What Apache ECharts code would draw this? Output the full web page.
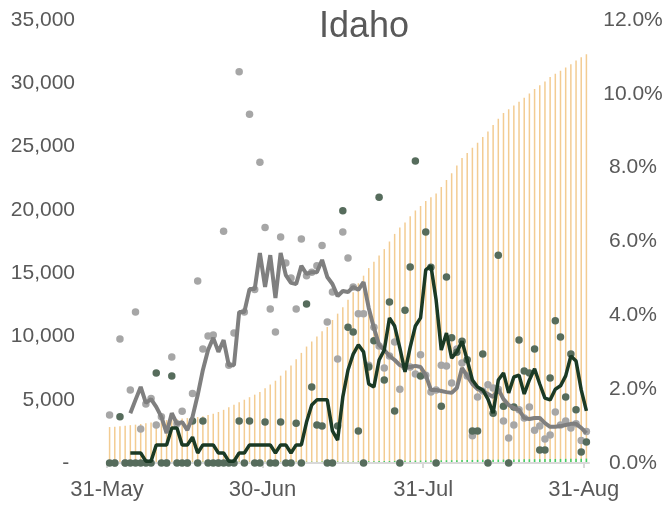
<!DOCTYPE html>
<html>
<head>
<meta charset="utf-8">
<script src="https://cdn.jsdelivr.net/npm/echarts@6/dist/echarts.min.js"></script>
<style>
html, body { margin: 0; padding: 0; background: #fff; }
#chart { width: 668px; height: 508px; }
</style>
</head>
<body>
<div id="chart"></div>
<script>
// x axis labels sit on day boundaries
var tickLabels = ['31-May', '30-Jun', '31-Jul', '31-Aug'];
var tickIndex = [0, 30, 61, 92];

// cumulative cases (left axis)
var cumCases = [2840, 2870, 2910, 2950, 2990, 3030, 3080, 3140, 3190, 3260,
  3330, 3390, 3430, 3470, 3510, 3560, 3600, 3630, 3700, 3800,
  3900, 4030, 4200, 4400, 4600, 4800, 5000, 5200, 5400, 5600,
  5900, 6200, 6500, 6900, 7300, 7700, 8200, 8700, 9200, 9600,
  10000, 10400, 10750, 11300, 11800, 12300, 12900, 13500, 14200, 14800,
  15400, 15900, 16400, 16900, 17500, 18100, 18600, 19000, 19500, 19950,
  20300, 20700, 21000, 21300, 21800, 22350, 22900, 23500, 24100, 24500,
  24900, 25300, 25750, 26200, 26700, 27200, 27650, 27950, 28250, 28550,
  28850, 29200, 29550, 29850, 30150, 30500, 30750, 31000, 31250, 31500,
  31800, 32050, 32300];

// cumulative deaths (left axis)
var cumDeaths = [80, 81, 81, 82, 82, 83, 84, 84, 85, 85,
  86, 86, 87, 87, 88, 88, 89, 89, 90, 90,
  90, 90, 91, 91, 91, 92, 92, 92, 93, 94,
  94, 95, 96, 97, 98, 99, 100, 102, 104, 106,
  108, 110, 112, 115, 118, 121, 124, 128, 132, 136,
  140, 145, 150, 155, 160, 165, 170, 176, 182, 188,
  194, 199, 204, 208, 212, 216, 221, 226, 231, 236,
  240, 245, 250, 255, 260, 265, 270, 275, 280, 285,
  290, 295, 300, 305, 310, 315, 320, 325, 330, 334,
  338, 342, 346];

// daily case growth % (right axis)
var caseGrowth = [1.30, 0, 3.36, 0, 1.98, 4.09, 0.92, 1.6, 1.75, 1.03,
  1.25, 0, 2.87, 1.06, 1.40, 0, 1.88, 4.93, 3.09, 3.44,
  3.47, 0, 6.28, 2.65, 3.52, 10.6, 4.09, 9.45, 4.7, 8.15,
  6.38, 4.17, 3.55, 6.12, 5.42, 5.01, 4.17, 6.07, 5.07, 5.17,
  5.34, 5.89, 3.82, 4.63, 2.82, 6.26, 5.55, 4.77, 4.04, 4.04,
  2.65, 3.68, 3.17, 2.57, 2.9, 3.28, 2.0, 2.6, 2.6, 2.41,
  2.93, 2.38, 1.92, 1.98, 2.65, 2.63, 2.17, 3.09, 2.71, 2.36,
  0.74, 1.79, 1.95, 2.12, 2.03, 2.0, 1.14, 0.68, 1.03, 1.44,
  1.22, 1.52, 0.89, 1.0, 0.65, 0.76, 1.38, 1.03, 1.14, 0.95,
  1.06, 0.61, 0.85];

// 7 day average of case growth %
var caseGrowthAvg = [null, null, null, null, 1.35, 1.71, 2.06, 1.63, 1.73, 1.52,
  1.25, 0.81, 1.35, 1.06, 1.11, 0.89, 1.25, 1.84, 2.52, 3.06,
  3.39, 3.01, 3.33, 2.65, 2.65, 4.09, 4.09, 4.71, 4.71, 5.69,
  4.77, 5.63, 4.47, 5.69, 5.09, 4.88, 4.85, 5.34, 5.12, 5.17,
  5.17, 5.50, 5.04, 4.85, 4.52, 4.66, 4.63, 4.77, 4.69, 4.90,
  4.20, 3.66, 3.20, 3.06, 2.90, 2.79, 2.65, 2.60, 2.60, 2.63,
  2.60, 2.38, 1.98, 1.98, 1.95, 1.92, 1.90, 2.03, 2.57, 2.36,
  2.14, 2.00, 1.95, 1.87, 1.79, 2.00, 1.73, 1.57, 1.49, 1.44,
  1.22, 1.19, 1.22, 1.22, 1.08, 0.98, 0.98, 1.00, 1.03, 1.06,
  1.06, 0.95, 0.81];

// daily death growth % (right axis)
var deathGrowth = [0, 0, 1.25, 0, 0, 0, 0, 0, 0, 2.44,
  0, 0, 2.36, 0, 0, 0, 1.14, 0, 1.14, 0,
  0, 0, 0, 0, 0, 1.14, 0, 1.14, 0, 0,
  1.11, 0, 0, 1.11, 0, 0, 1.08, 0, 4.31, 2.06,
  1.03, 1.0, 0, 0, 1.0, 6.83, 3.68, 3.55, 0.87, 0,
  2.6, 3.31, 7.2, 2.25, 4.36, 1.41, 0, 4.14, 5.31, 8.18,
  2.36, 6.26, 5.3, 0, 1.54, 5.04, 3.39, 3.0, 3.3, 2.8,
  0.87, 0.87, 2.95, 0, 1.35, 5.63, 1.54, 0, 1.52, 3.33,
  2.49, 2.44, 3.09, 0.35, 0.35, 2.30, 3.85, 3.41, 1.79, 2.95,
  1.44, 0.30, 0.57];

// 7 day average of death growth %
var deathGrowthAvg = [null, null, null, null, 0.27, 0.27, 0.27, 0.05, 0.05, 0.49,
  0.49, 0.49, 0.95, 0.95, 0.49, 0.49, 0.70, 0.27, 0.49, 0.49,
  0.49, 0.27, 0.27, 0.05, 0.05, 0.27, 0.27, 0.49, 0.49, 0.49,
  0.49, 0.49, 0.27, 0.49, 0.49, 0.27, 0.49, 0.49, 1.11, 1.57,
  1.71, 1.71, 1.71, 0.87, 0.62, 1.79, 2.52, 2.95, 3.20, 3.01,
  2.14, 2.06, 2.79, 3.06, 3.93, 3.71, 3.12, 2.47, 3.14, 3.71,
  3.93, 5.23, 5.34, 4.42, 3.06, 3.52, 2.84, 3.01, 3.30, 2.79,
  2.25, 2.06, 1.98, 1.73, 1.35, 2.25, 2.44, 1.90, 2.33, 2.38,
  1.87, 2.25, 2.55, 2.14, 1.76, 1.71, 2.00, 2.09, 2.36, 2.90,
  2.76, 1.98, 1.41];

var days = [];
var start = new Date(2020, 4, 31);
for (var i = 0; i < cumCases.length; i++) {
  var d = new Date(start.getTime() + i * 86400000);
  days.push((d.getMonth() + 1) + '/' + d.getDate());
}
// one more slot boundary than days, labelled on month ends
var edges = [];
for (var j = 0; j <= cumCases.length; j++) {
  var k = tickIndex.indexOf(j);
  edges.push(k >= 0 ? tickLabels[k] : '');
}
var showEdge = function(idx, val) { return val !== ''; };

var labelColor = '#595959';
var labelFont = 'Liberation Sans, Arial, sans-serif';

var chart = echarts.init(document.getElementById('chart'));
chart.setOption({
  animation: false,
  title: {
    text: 'Idaho',
    left: 359,
    top: 4,
    textAlign: 'center',
    textStyle: { color: labelColor, fontFamily: labelFont, fontSize: 36, fontWeight: 'normal' }
  },
  grid: { left: 107, right: 79, top: 20, bottom: 45 },
  xAxis: [{
    type: 'category',
    data: days,
    boundaryGap: true,
    position: 'top',
    show: false
  }, {
    type: 'category',
    data: edges,
    boundaryGap: false,
    position: 'bottom',
    z: 1.5,
    axisLine: { lineStyle: { color: '#d9d9d9', width: 2 } },
    axisTick: { interval: showEdge, length: 5, lineStyle: { color: '#d9d9d9', width: 2 } },
    axisLabel: { interval: showEdge, color: labelColor, fontFamily: labelFont, fontSize: 22, margin: 16 },
    splitLine: { show: false }
  }],
  yAxis: [{
    type: 'value',
    min: 0,
    max: 35000,
    interval: 5000,
    axisLine: { show: false },
    axisTick: { show: false },
    splitLine: { show: false },
    axisLabel: {
      color: labelColor, fontFamily: labelFont, fontSize: 21, margin: 32,
      formatter: function(v) { return v === 0 ? '- ' : v.toLocaleString('en-US'); }
    }
  }, {
    type: 'value',
    min: 0,
    max: 12,
    interval: 2,
    position: 'right',
    axisLine: { show: false },
    axisTick: { show: false },
    splitLine: { show: false },
    axisLabel: {
      color: labelColor, fontFamily: labelFont, fontSize: 21, margin: 44, align: 'center',
      formatter: function(v) { return v.toFixed(1) + '%'; }
    }
  }],
  series: [{
    name: 'Cases',
    type: 'bar',
    z: 1,
    data: cumCases,
    barWidth: 1.5,
    barGap: '-100%',
    itemStyle: { color: '#f3cc92' }
  }, {
    name: 'Deaths',
    type: 'bar',
    z: 1,
    data: cumDeaths,
    barWidth: 1.5,
    barGap: '-100%',
    itemStyle: { color: '#3fcf6a' }
  }, {
    name: 'Case growth',
    type: 'scatter',
    yAxisIndex: 1,
    data: caseGrowth,
    symbolSize: 7.5,
    itemStyle: { color: '#a6a6a6', opacity: 1 }
  }, {
    name: 'Death growth',
    type: 'scatter',
    yAxisIndex: 1,
    data: deathGrowth,
    symbolSize: 7.5,
    itemStyle: { color: '#566c5c', opacity: 1 }
  }, {
    name: 'Case growth avg',
    type: 'line',
    yAxisIndex: 1,
    data: caseGrowthAvg,
    showSymbol: false,
    lineStyle: { color: '#7f7f7f', width: 4 }
  }, {
    name: 'Death growth avg',
    type: 'line',
    yAxisIndex: 1,
    data: deathGrowthAvg,
    showSymbol: false,
    lineStyle: { color: '#1b3a25', width: 3.5 }
  }]
});
</script>
</body>
</html>
